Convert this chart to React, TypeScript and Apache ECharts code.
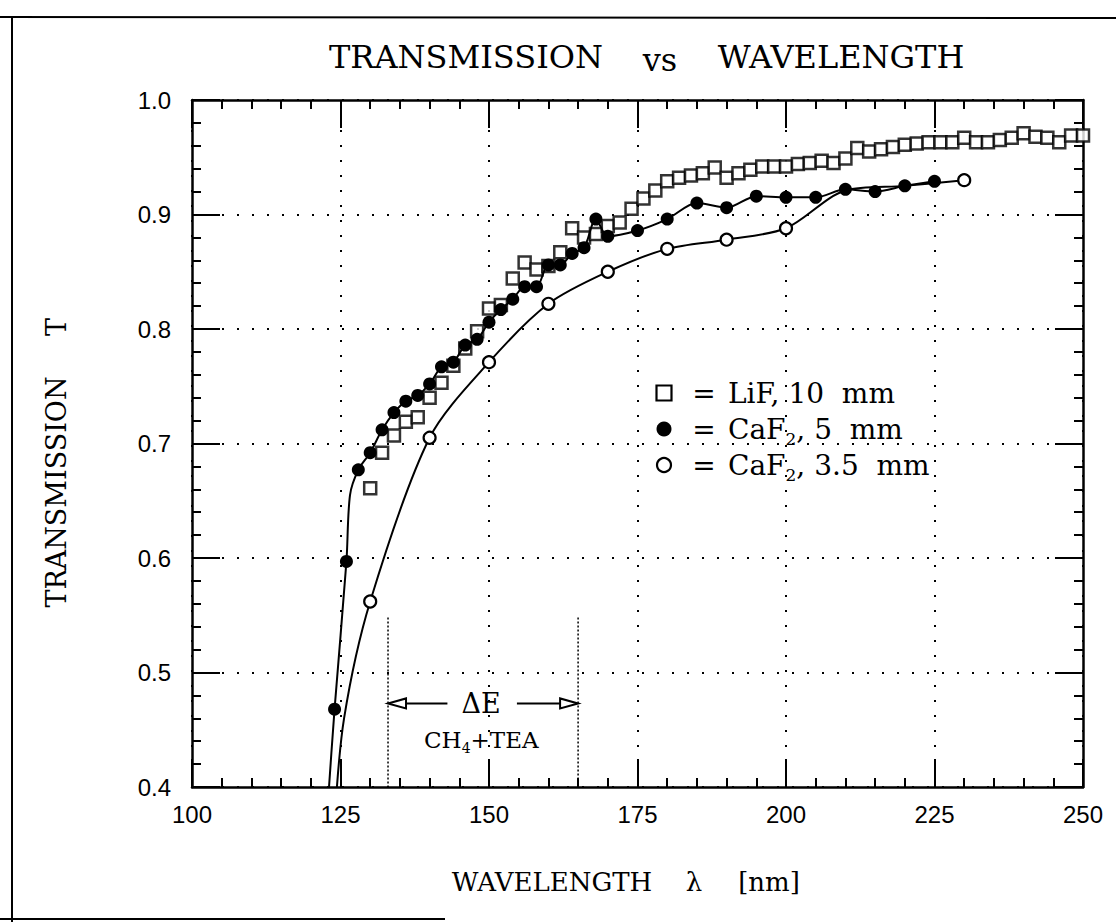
import { useEffect, useRef } from "react";
import * as echarts from "echarts";

// ---------- data ----------
const lifWavelength = [
  130, 132, 134, 136, 138, 140, 142, 144, 146, 148, 150, 152, 154, 156, 158, 160,
  162, 164, 166, 168, 170, 172, 174, 176, 178, 180, 182, 184, 186, 188, 190, 192,
  194, 196, 198, 200, 202, 204, 206, 208, 210, 212, 214, 216, 218, 220, 222, 224,
  226, 228, 230, 232, 234, 236, 238, 240, 242, 244, 246, 248, 250,
];
const lifT = [
  0.661, 0.692, 0.707, 0.719, 0.723, 0.74, 0.753, 0.768, 0.783, 0.798, 0.818, 0.821,
  0.844, 0.858, 0.852, 0.855, 0.867, 0.888, 0.88, 0.883, 0.89, 0.893, 0.905, 0.914,
  0.921, 0.929, 0.932, 0.934, 0.936, 0.941, 0.932, 0.936, 0.939, 0.942, 0.942, 0.942,
  0.944, 0.945, 0.947, 0.945, 0.949, 0.958, 0.955, 0.957, 0.959, 0.961, 0.962, 0.963,
  0.963, 0.963, 0.967, 0.963, 0.963, 0.965, 0.967, 0.971, 0.968, 0.967, 0.963, 0.969,
  0.969,
];

const caf5Wavelength = [
  124, 126, 128, 130, 132, 134, 136, 138, 140, 142, 144, 146, 148, 150, 152, 154, 156,
  158, 160, 162, 164, 166, 168, 170, 175, 180, 185, 190, 195, 200, 205, 210, 215, 220, 225,
];
const caf5T = [
  0.468, 0.597, 0.677, 0.692, 0.712, 0.727, 0.737, 0.742, 0.752, 0.767, 0.771, 0.786,
  0.791, 0.806, 0.817, 0.826, 0.837, 0.837, 0.856, 0.856, 0.866, 0.871, 0.896, 0.881,
  0.886, 0.896, 0.91, 0.906, 0.916, 0.915, 0.915, 0.922, 0.92, 0.925, 0.929,
];
// vertices of the drawn curve that carry no marker
const caf5CurveOnlyWavelength = [122.8, 126.6];
const caf5CurveOnlyT = [0.38, 0.655];

const caf35Wavelength = [130, 140, 150, 160, 170, 180, 190, 200, 230];
const caf35T = [0.562, 0.705, 0.771, 0.822, 0.85, 0.87, 0.878, 0.888, 0.93];
const caf35CurveOnlyWavelength = [124.0, 125.6, 210, 220];
const caf35CurveOnlyT = [0.37, 0.46, 0.921, 0.925];

const xTickValues = [100, 125, 150, 175, 200, 225, 250];
const yTickValues = [0.4, 0.5, 0.6, 0.7, 0.8, 0.9, 1.0];

// ΔE band (CH4+TEA), in data units
const deltaEBand = [133, 165];
const deltaETop = 0.548;
const deltaEArrowT = 0.473;
const deltaEArrowTails = [143, 154.7];

// ---------- styling ----------
const SERIF = "DejaVu Serif";
const SANS = "Liberation Sans";
const INK = "#000";

function mergeCurve(w: number[], t: number[], cw: number[], ct: number[]) {
  const items: any[] = w.map((x, i) => ({ value: [x, t[i]] }));
  cw.forEach((x, i) => items.push({ value: [x, ct[i]], symbol: "none" }));
  items.sort((a, b) => a.value[0] - b.value[0]);
  return items;
}

function axisCommon(showLabel: boolean, isX: boolean) {
  return {
    type: "value" as const,
    min: isX ? xTickValues[0] : yTickValues[0],
    max: isX ? xTickValues[xTickValues.length - 1] : yTickValues[yTickValues.length - 1],
    interval: isX ? xTickValues[1] - xTickValues[0] : 0.1,
    axisLine: { show: true, onZero: false, lineStyle: { color: INK, width: 2.5 } },
    axisTick: { show: true, inside: true, length: 28, lineStyle: { color: INK, width: 2 } },
    minorTick: { show: true, splitNumber: 5, length: 9, lineStyle: { color: INK, width: 2 } },
    splitLine: {
      show: showLabel,
      lineStyle: { color: INK, width: 2, type: [2, 13] as any },
    },
    axisLabel: {
      show: showLabel,
      color: INK,
      fontFamily: SANS,
      fontSize: 24,
      margin: isX ? 15 : 21,
      formatter: (v: number) => (isX ? String(Math.round(v)) : v.toFixed(1)),
    },
  };
}

export default function App() {
  const ref = useRef<HTMLDivElement>(null);

  useEffect(() => {
    document.body.style.margin = "0";
    const chart = echarts.init(ref.current!, null, { renderer: "svg" });

    const option: any = {
      animation: false,
      backgroundColor: "#fff",
      grid: { left: 192, right: 33, top: 100, bottom: 135, containLabel: false },
      xAxis: [
        { ...axisCommon(true, true), position: "bottom" },
        { ...axisCommon(false, true), position: "top" },
      ],
      yAxis: [
        { ...axisCommon(true, false), position: "left" },
        { ...axisCommon(false, false), position: "right" },
      ],
      series: [
        {
          name: "LiF, 10 mm",
          type: "scatter",
          symbol: "rect",
          symbolSize: 12,
          itemStyle: { color: "#fff", borderColor: INK, borderWidth: 2.5 },
          data: lifWavelength.map((x, i) => [x, lifT[i]]),
          z: 3,
          clip: false,
        },
        {
          name: "CaF2, 3.5 mm",
          type: "line",
          smooth: 0.3,
          symbol: "circle",
          symbolSize: 12,
          showAllSymbol: true,
          lineStyle: { color: INK, width: 2 },
          itemStyle: { color: "#fff", borderColor: INK, borderWidth: 2.2 },
          data: mergeCurve(caf35Wavelength, caf35T, caf35CurveOnlyWavelength, caf35CurveOnlyT),
          z: 4,
          clip: true,
        },
        {
          name: "CaF2, 5 mm",
          type: "line",
          smooth: 0.3,
          symbol: "circle",
          symbolSize: 13,
          showAllSymbol: true,
          lineStyle: { color: INK, width: 2 },
          itemStyle: { color: INK, borderColor: INK, borderWidth: 0 },
          data: mergeCurve(caf5Wavelength, caf5T, caf5CurveOnlyWavelength, caf5CurveOnlyT),
          z: 5,
          clip: true,
        },
      ],
    };
    chart.setOption(option);

    const px = (x: number, y: number) =>
      chart.convertToPixel({ xAxisIndex: 0, yAxisIndex: 0 }, [x, y]) as number[];

    const graphics: any[] = [];

    // page frame (scanned figure border)
    graphics.push(
      { type: "line", shape: { x1: 0, y1: 17, x2: 1116, y2: 18 }, style: { stroke: INK, lineWidth: 2 } },
      { type: "line", shape: { x1: 12, y1: 17, x2: 12, y2: 922 }, style: { stroke: INK, lineWidth: 2 } },
      { type: "line", shape: { x1: 0, y1: 919, x2: 445, y2: 919 }, style: { stroke: INK, lineWidth: 2 } }
    );

    // title
    const titleStyle = { fontFamily: SERIF, fontSize: 32, fill: INK, align: "center", verticalAlign: "middle" };
    graphics.push(
      { type: "text", x: 466, y: 57, style: { ...titleStyle, text: "TRANSMISSION" } },
      { type: "text", x: 660, y: 60, style: { ...titleStyle, text: "vs" } },
      { type: "text", x: 841, y: 57, style: { ...titleStyle, text: "WAVELENGTH" } }
    );

    // x axis title
    const xtStyle = { fontFamily: SERIF, fontSize: 26, fill: INK, align: "center", verticalAlign: "middle" };
    graphics.push(
      { type: "text", x: 552, y: 882, style: { ...xtStyle, text: "WAVELENGTH" } },
      { type: "text", x: 694, y: 882, style: { ...xtStyle, text: "λ" } },
      { type: "text", x: 769, y: 882, style: { ...xtStyle, text: "[nm]" } }
    );

    // y axis title (rotated)
    const ytStyle = { fontFamily: SERIF, fontSize: 27, fill: INK, align: "center", verticalAlign: "middle" };
    graphics.push(
      { type: "text", x: 56, y: 492, rotation: Math.PI / 2, style: { ...ytStyle, text: "TRANSMISSION" } },
      { type: "text", x: 56, y: 327, rotation: Math.PI / 2, style: { ...ytStyle, text: "T" } }
    );

    // legend
    const legX = 664;
    const legRows = [393, 429, 465];
    const legText = { fontFamily: SERIF, fontSize: 28, fill: INK, verticalAlign: "middle", lineHeight: 36 };
    const sub = { fontFamily: SERIF, fontSize: 17, verticalAlign: "bottom", lineHeight: 17 };
    graphics.push(
      {
        type: "rect",
        shape: { x: legX - 7.5, y: legRows[0] - 7.5, width: 15, height: 15 },
        style: { fill: "#fff", stroke: INK, lineWidth: 2.2 },
      },
      { type: "circle", shape: { cx: legX, cy: legRows[1], r: 7.5 }, style: { fill: INK } },
      {
        type: "circle",
        shape: { cx: legX, cy: legRows[2], r: 7 },
        style: { fill: "#fff", stroke: INK, lineWidth: 2.2 },
      }
    );
    const legLabels = [
      "LiF, 10\u00A0\u00A0mm",
      "CaF{s|2}, 5\u00A0\u00A0mm",
      "CaF{s|2}, 3.5\u00A0\u00A0mm",
    ];
    legRows.forEach((y, i) => {
      graphics.push(
        { type: "text", x: 704, y, style: { ...legText, align: "center", text: "=" } },
        { type: "text", x: 728, y, style: { ...legText, align: "left", text: legLabels[i], rich: { s: sub } } }
      );
    });

    // ΔE band
    const [xl, xr] = deltaEBand;
    const topL = px(xl, deltaETop);
    const botL = px(xl, yTickValues[0]);
    const topR = px(xr, deltaETop);
    const botR = px(xr, yTickValues[0]);
    graphics.push(
      { type: "line", shape: { x1: topL[0], y1: topL[1], x2: botL[0], y2: botL[1] }, style: { stroke: INK, lineWidth: 1.5, lineDash: [2, 2] } },
      { type: "line", shape: { x1: topR[0], y1: topR[1], x2: botR[0], y2: botR[1] }, style: { stroke: INK, lineWidth: 1.5, lineDash: [2, 2] } }
    );
    const tipL = px(xl, deltaEArrowT);
    const tipR = px(xr, deltaEArrowT);
    const tailL = px(deltaEArrowTails[0], deltaEArrowT);
    const tailR = px(deltaEArrowTails[1], deltaEArrowT);
    const head = 18;
    const hw = 5;
    graphics.push(
      { type: "line", shape: { x1: tipL[0] + head, y1: tipL[1], x2: tailL[0], y2: tailL[1] }, style: { stroke: INK, lineWidth: 2 } },
      {
        type: "polygon",
        shape: { points: [[tipL[0], tipL[1]], [tipL[0] + head, tipL[1] - hw], [tipL[0] + head, tipL[1] + hw]] },
        style: { fill: "#fff", stroke: INK, lineWidth: 2 },
      },
      { type: "line", shape: { x1: tailR[0], y1: tailR[1], x2: tipR[0] - head, y2: tipR[1] }, style: { stroke: INK, lineWidth: 2 } },
      {
        type: "polygon",
        shape: { points: [[tipR[0], tipR[1]], [tipR[0] - head, tipR[1] - hw], [tipR[0] - head, tipR[1] + hw]] },
        style: { fill: "#fff", stroke: INK, lineWidth: 2 },
      }
    );
    const mid = px((xl + xr) / 2, deltaEArrowT);
    const chPos = px((xl + xr) / 2 - 0.3, 0.441);
    graphics.push(
      { type: "text", x: mid[0] - 2, y: mid[1], style: { fontFamily: SERIF, fontSize: 27, fill: INK, align: "center", verticalAlign: "middle", text: "ΔE" } },
      {
        type: "text",
        x: chPos[0],
        y: chPos[1],
        style: {
          fontFamily: SERIF,
          fontSize: 23,
          fill: INK,
          align: "center",
          verticalAlign: "middle",
          lineHeight: 30,
          text: "CH{s|4}+TEA",
          rich: { s: { fontFamily: SERIF, fontSize: 14, verticalAlign: "bottom", lineHeight: 14 } },
        },
      }
    );

    chart.setOption({ graphic: graphics });

    return () => chart.dispose();
  }, []);

  return <div ref={ref} style={{ width: 1116, height: 922 }} />;
}
